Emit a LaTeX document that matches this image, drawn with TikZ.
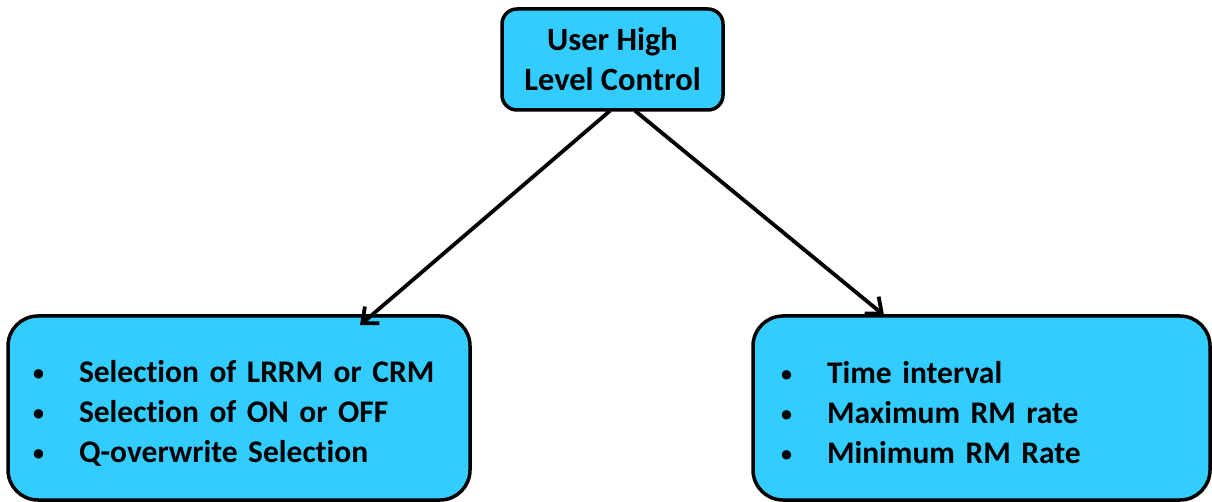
\documentclass[tikz,border=0pt]{standalone}
\usepackage{fontspec}
\setmainfont{Carlito}[Ligatures={NoCommon}]
\usetikzlibrary{arrows.meta,calc}
\definecolor{boxblue}{HTML}{33CCFF}
\tikzset{
  box/.style={draw=black, fill=boxblue, line width=3.5pt},
  topbox/.style={box, rounded corners=15pt, minimum width=221pt, minimum height=101pt, inner sep=0pt, align=center, font=\fontsize{32.5}{40}\selectfont\bfseries},
  listbox/.style={box, rounded corners=30pt, minimum height=184pt, inner ysep=0pt, align=left, font=\fontsize{31.5}{40}\selectfont\bfseries},
  conn/.style={line width=3.8pt, -{Straight Barb[length=13pt,width=22pt,line width=3.8pt]}},
}
\newcommand{\bul}[1]{\makebox[49pt][l]{\hspace*{3pt}\raisebox{2pt}{\fontsize{22}{22}\selectfont •}}#1}
\begin{document}
\begin{tikzpicture}[x=1pt,y=-1pt]
\useasboundingbox (0,0) rectangle (1212,502);
\node[topbox] (top) at (612.5,59.5) {User High\\Level Control};
\node[listbox, text width=418pt, inner xsep=22pt] (lb) at (239,408) {\raisebox{-5pt}[\height][\depth]{\parbox{418pt}{\bul{Selection of LRRM or CRM}\\\bul{Selection of ON or OFF}\\\bul{Q-overwrite Selection}}}};
\node[listbox, text width=407pt, inner xsep=25pt] (rb) at (981.5,408) {\raisebox{-5pt}[\height][\depth]{\parbox{407pt}{\bul{Time interval}\\\bul{Maximum RM rate}\\\bul{Minimum RM Rate}}}};
\draw[conn] ($(top.south)+(-2.5,-1)$) -- ($(lb.north)+(121,11)$);
\draw[conn] ($(top.south)+(22.5,-1)$) -- ($(rb.north)+(-97.5,1)$);
\end{tikzpicture}
\end{document}
